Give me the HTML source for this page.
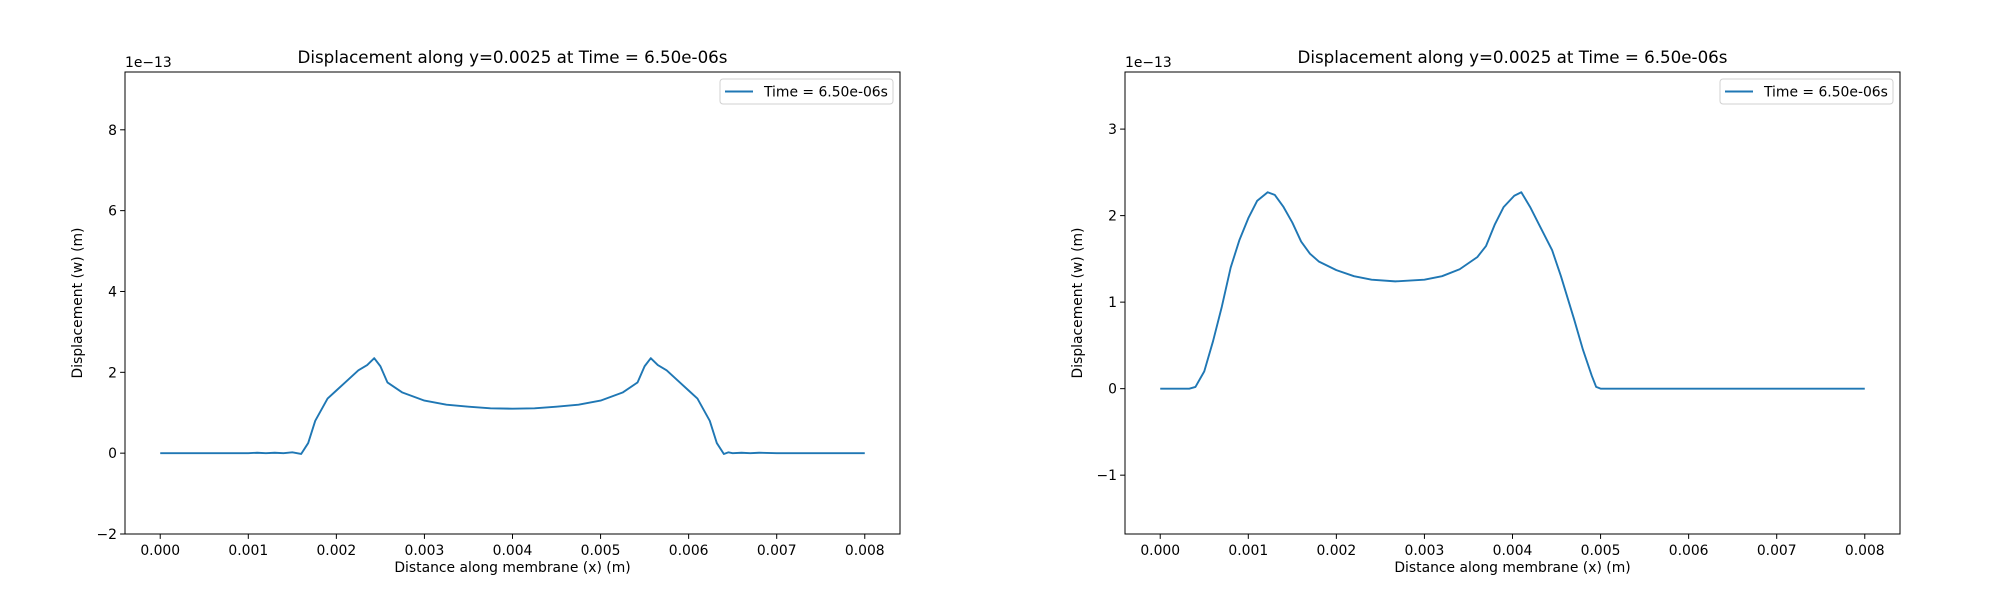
<!DOCTYPE html>
<html><head><meta charset="utf-8"><style>
html,body{margin:0;padding:0;background:#fff;}
svg{display:block;font-family:"DejaVu Sans","Liberation Sans",sans-serif;}
</style></head><body>
<svg id="fig" width="2000" height="600" viewBox="0 0 2000 600" xmlns="http://www.w3.org/2000/svg"></svg>
<script>
// Left chart data (x in 1e-3 m, y in 1e-13 m)
const leftX = [0,0.5,1.0,1.1,1.2,1.3,1.4,1.5,1.6,1.68,1.76,1.9,2.0,2.1,2.25,2.35,2.43,2.5,2.58,2.75,3.0,3.25,3.5,3.75,4.0,4.25,4.5,4.75,5.0,5.25,5.42,5.5,5.57,5.65,5.75,5.9,6.0,6.1,6.24,6.32,6.4,6.45,6.5,6.6,6.7,6.8,7.0,8.0];
const leftY = [0,0,0,0.01,0,0.01,0,0.02,-0.02,0.25,0.8,1.35,1.55,1.75,2.05,2.18,2.35,2.15,1.75,1.5,1.3,1.2,1.15,1.11,1.1,1.11,1.15,1.2,1.3,1.5,1.75,2.15,2.35,2.18,2.05,1.75,1.55,1.35,0.8,0.25,-0.02,0.02,0,0.01,0,0.01,0,0];
// Right chart data
const rightX = [0,0.33,0.4,0.5,0.6,0.7,0.8,0.9,1.0,1.1,1.22,1.3,1.4,1.5,1.6,1.7,1.8,2.0,2.2,2.4,2.67,3.0,3.2,3.4,3.6,3.7,3.8,3.9,4.02,4.1,4.2,4.3,4.45,4.55,4.7,4.8,4.9,4.95,5.0,8.0];
const rightY = [0,0,0.02,0.2,0.55,0.95,1.4,1.72,1.97,2.17,2.27,2.24,2.1,1.92,1.7,1.56,1.47,1.37,1.3,1.26,1.24,1.26,1.3,1.38,1.52,1.65,1.9,2.1,2.23,2.27,2.1,1.9,1.6,1.3,0.8,0.45,0.15,0.02,0,0];
const xTicks = [0,1,2,3,4,5,6,7,8];
const xTickLabels = ["0.000","0.001","0.002","0.003","0.004","0.005","0.006","0.007","0.008"];
const leftYTicks = [-2,0,2,4,6,8];
const rightYTicks = [-1,0,1,2,3];

const NS="http://www.w3.org/2000/svg";
const svg=document.getElementById('fig');
function mk(tag,attrs,parent){const e=document.createElementNS(NS,tag);for(const k in attrs)e.setAttribute(k,attrs[k]);(parent||svg).appendChild(e);return e;}

function chart(id,ox,xs,ys,ymin,ymax,yticks){
  const L=ox,R=ox+775,T=72,B=534;
  const xmin=-0.4,xmax=8.4;
  const sx=v=>L+(v-xmin)/(xmax-xmin)*(R-L);
  const sy=v=>B-(v-ymin)/(ymax-ymin)*(B-T);
  const g=mk('g',{});
  
  
  const t=mk('text',{x:(L+R)/2,y:63,'text-anchor':'middle','font-size':'16.7'},g);
  t.textContent='Displacement along y=0.0025 at Time = 6.50e-06s';
  
  const off=mk('text',{x:L,y:67,'font-size':'13.9'},g);
  off.textContent='1e\u221213';
  
  xTicks.forEach((v,i)=>{
    const x=sx(v);
    const tk=mk('line',{x1:x,x2:x,y1:B,y2:B+4.9,stroke:'#000','stroke-width':1},g);
    
    const lb=mk('text',{x:x,y:B+21,'text-anchor':'middle','font-size':'13.9'},g);
    lb.textContent=xTickLabels[i];
    
  });
  yticks.forEach(v=>{
    const y=sy(v);
    const tk=mk('line',{x1:L-4.9,x2:L,y1:y,y2:y,stroke:'#000','stroke-width':1},g);
    
    const lb=mk('text',{x:L-8,y:y+5,'text-anchor':'end','font-size':'13.9'},g);
    lb.textContent=v<0?'\u2212'+(-v):String(v);
    
  });
  const xl=mk('text',{x:(L+R)/2,y:B+38,'text-anchor':'middle','font-size':'13.9'},g);
  xl.textContent='Distance along membrane (x) (m)';
  
  const yl=mk('text',{x:0,y:0,'text-anchor':'middle','font-size':'13.9',transform:`translate(${L-43},${(T+B)/2}) rotate(-90)`},g);
  yl.textContent='Displacement (w) (m)';
  
  const d=xs.map((v,i)=>(i?'L':'M')+sx(v).toFixed(2)+','+sy(ys[i]).toFixed(2)).join(' ');
  const p=mk('path',{d:d,fill:'none',stroke:'#1f77b4','stroke-width':1.9,'stroke-linejoin':'round'},g);
  
  const fr=mk('rect',{x:L,y:T,width:R-L,height:B-T,fill:'none',stroke:'#000','stroke-width':1},g);
  
  const lg=mk('g',{},g);
  
  mk('rect',{x:R-180,y:79,width:173,height:25,rx:3,fill:'#fff',stroke:'#d0d0d0','stroke-width':1},lg);
  mk('line',{x1:R-175,x2:R-147,y1:91.5,y2:91.5,stroke:'#1f77b4','stroke-width':1.9},lg);
  const lt=mk('text',{x:R-136,y:96.5,'font-size':'13.9'},lg);
  lt.textContent='Time = 6.50e-06s';
  
}
chart('left-chart',125,leftX,leftY,-2,9.43,leftYTicks);
chart('right-chart',1125,rightX,rightY,-1.68,3.66,rightYTicks);
</script>
</body></html>
